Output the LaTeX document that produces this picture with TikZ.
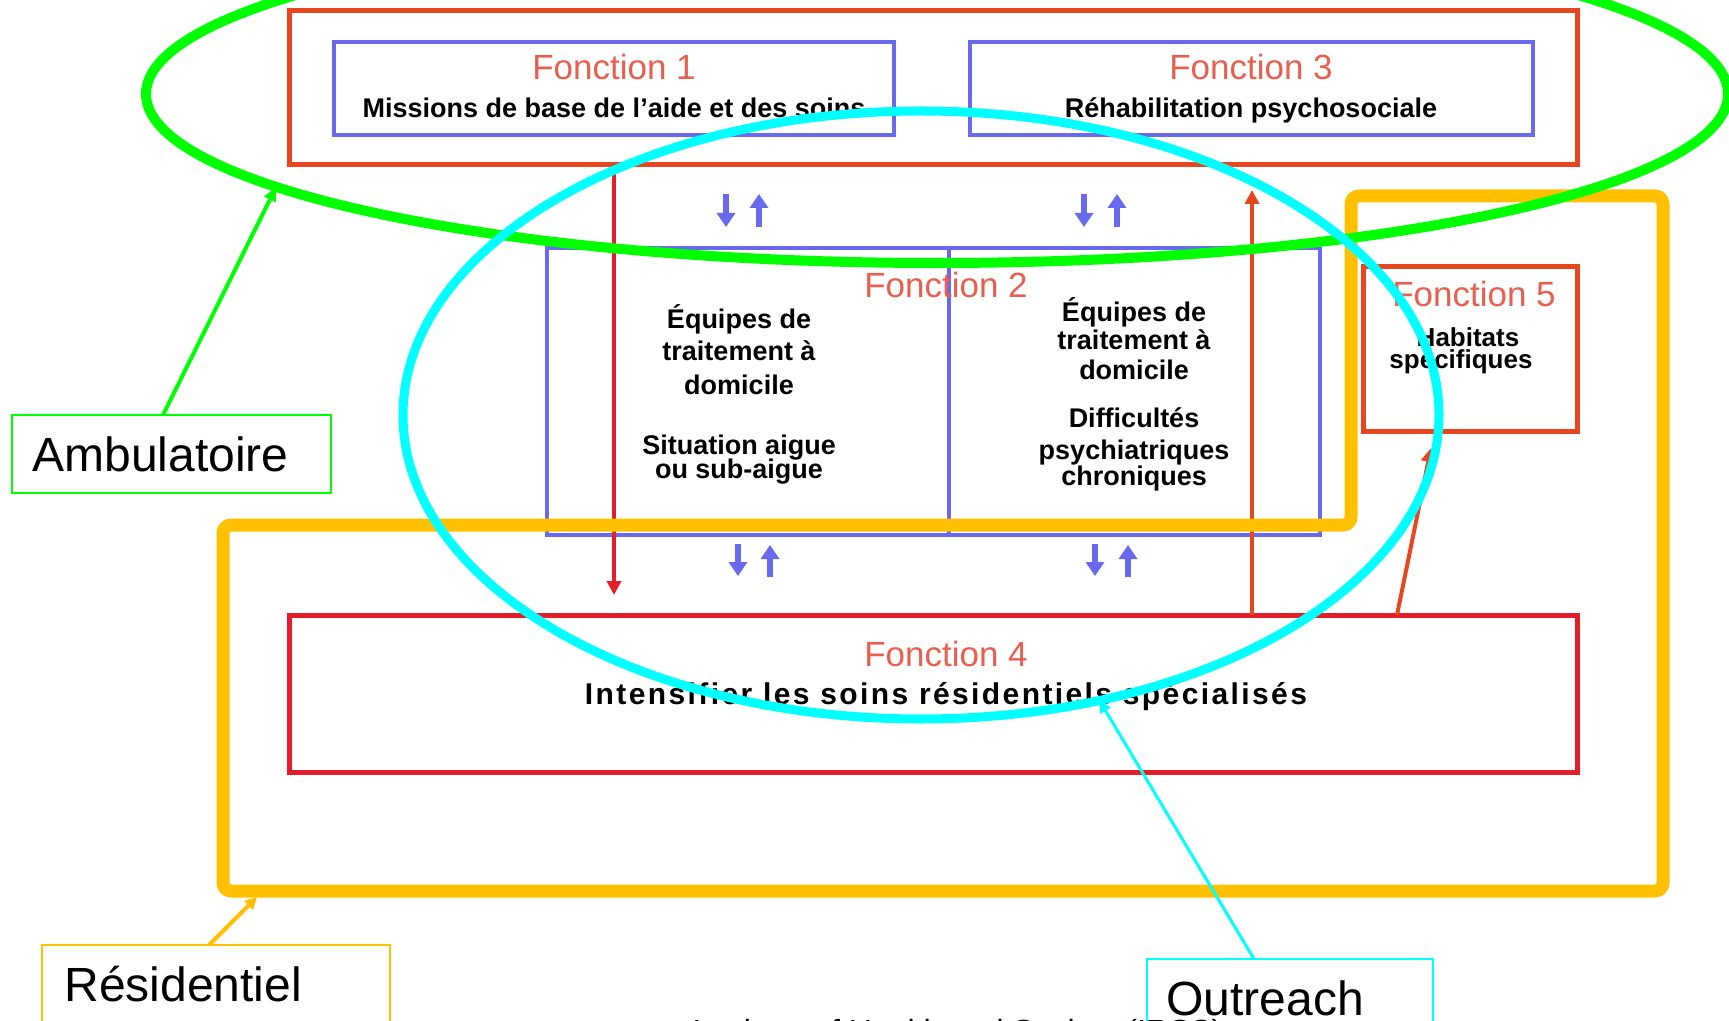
\documentclass[tikz,border=0pt]{standalone}
\usepackage{fontspec}
\setmainfont{Liberation Sans}
\usetikzlibrary{arrows.meta,shapes.geometric}
\definecolor{ored}{RGB}{232,70,30}
\definecolor{pred}{RGB}{228,30,40}
\definecolor{fblue}{RGB}{105,105,240}
\definecolor{ftxt}{RGB}{232,95,80}
\definecolor{grn}{RGB}{0,255,0}
\definecolor{cyn}{RGB}{0,255,255}
\definecolor{orng}{RGB}{255,192,0}
\begin{document}
\begin{tikzpicture}[x=0.5pt,y=-0.5pt,
  box/.style={draw, rectangle, inner sep=0pt, outer sep=0pt},
  redbox/.style={box, draw=ored, line width=2.5pt},
  bluebox/.style={box, draw=fblue, line width=2pt},
  ftitle/.style={anchor=base, text=ftxt, font=\fontsize{17.5}{20}\selectfont, inner sep=0pt},
  fbody/.style={anchor=base, font=\fontsize{13.5}{16}\selectfont\bfseries, inner sep=0pt},
  lbl/.style={anchor=base west, font=\fontsize{24}{28}\selectfont, inner sep=0pt},
  blarrow/.style={draw=fblue, line width=3pt, -{Triangle[length=7pt,width=9pt]}},
  rdarrow/.style={draw=pred, line width=2pt, -{Triangle[length=7pt,width=7pt]}},
  region/.style={ellipse, inner sep=0pt, outer sep=0pt}
]
\useasboundingbox (0,0) rectangle (1729,1021);

% boxes
\node[redbox, minimum width=644pt, minimum height=77pt] (top) at (933,88) {};
\node[bluebox, minimum width=280pt, minimum height=46.5pt] (f1) at (614,88.5) {};
\node[bluebox, minimum width=281.5pt, minimum height=46.5pt] (f3) at (1251.5,88.5) {};
\node[bluebox, minimum width=386.5pt, minimum height=143.5pt] (f2) at (933.5,391.5) {};
\coordinate (dv) at (949,0);
\draw[fblue, line width=2pt] (f2.north -| dv) -- (f2.south -| dv);
\node[box, draw=pred, line width=2.5pt, minimum width=644pt, minimum height=78.5pt] (f4) at (933,693.5) {};
\node[redbox, minimum width=107pt, minimum height=82.5pt] (f5) at (1470,349.5) {};

% texts
\node[ftitle] (t1) at (614,80) {Fonction 1};
\node[fbody] (b1) at (614,118) {Missions de base de l'aide et des soins};
\node[ftitle] (t3) at (1251,80) {Fonction 3};
\node[fbody] (b3) at (1251,118) {Réhabilitation psychosociale};
\node[ftitle] (t2) at (946,298) {Fonction 2};
\node[fbody] (l1) at (739,329) {Équipes de};
\node[fbody] (l2) at (739,361) {traitement à};
\node[fbody] (l3) at (739,394) {domicile};
\node[fbody] (l4) at (739,454) {Situation aigue};
\node[fbody] (l5) at (739,479) {ou sub-aigue};
\node[fbody] (r1) at (1134,322) {Équipes de};
\node[fbody] (r2) at (1134,350) {traitement à};
\node[fbody] (r3) at (1134,380) {domicile};
\node[fbody] (r4) at (1134,428) {Difficultés};
\node[fbody] (r5) at (1134,459) {psychiatriques};
\node[fbody] (r6) at (1134,485) {chroniques};
\node[ftitle] (t4) at (946,666) {Fonction 4};
\node[fbody, font=\fontsize{15}{17}\selectfont\bfseries\addfontfeature{LetterSpace=8}] (b4) at (946,704) {Intensifier les soins résidentiels spécialisés};
\node[ftitle] (t5) at (1474,307) {Fonction 5};
\node[fbody, font=\fontsize{13}{15}\selectfont\bfseries] (h1) at (1468,347) {Habitats};
\node[fbody, font=\fontsize{13}{15}\selectfont\bfseries] (h2) at (1461,369) {spécifiques};

% red arrows
\coordinate (dtip) at (614,595);
\draw[rdarrow] (top.south -| dtip) -- (dtip);
\coordinate (utip) at (1252,190);
\draw[rdarrow, draw=ored] (f4.north -| utip) -- (utip);
\coordinate (f5base) at (1397,0);
\coordinate (f5tip) at (1431,448);
\draw[rdarrow, draw=ored] (f4.north -| f5base) -- (f5tip);

% blue arrows
\foreach \x in {726,1084} \draw[blarrow] (\x,194) -- (\x,227);
\foreach \x in {759,1117} \draw[blarrow] (\x,227) -- (\x,194);
\foreach \x in {738,1095} \draw[blarrow] (\x,544) -- (\x,576);
\foreach \x in {770,1128} \draw[blarrow] (\x,577) -- (\x,545);

% regions
\draw[orng, line width=6.5pt, rounded corners=4pt, line join=round]
  (1351,196) -- (1663,196) -- (1663,891) -- (223,891) -- (223,525) -- (1351,525) -- cycle;
\node[region, draw=grn, line width=5pt, minimum width=791pt, minimum height=169pt] (amb) at (937,94) {};
\node[region, draw=cyn, line width=4.5pt, minimum width=518pt, minimum height=304pt] (out) at (921,415) {};

% labels
\node[box, draw=grn, line width=0.8pt, minimum width=159.5pt, minimum height=39pt] (ambbox) at (171.5,454) {};
\node[lbl] (ambtxt) at (32,472) {Ambulatoire};
\coordinate (ga) at (163,0);
\draw[grn, line width=2pt, -{Triangle[length=7pt,width=6pt]}] (ambbox.north -| ga) -- (amb.188.3);

\node[box, draw=orng, line width=0.8pt, minimum width=174pt, minimum height=67.5pt] (resbox) at (216,1012.5) {};
\node[lbl] (restxt) at (64,1001) {Résidentiel};
\coordinate (oa) at (209,0);
\coordinate (otip) at (257,897);
\draw[orng, line width=2pt, -{Triangle[length=6pt,width=6pt]}] (resbox.north -| oa) -- (otip);

\node[box, draw=cyn, line width=1.2pt, minimum width=143pt, minimum height=60.5pt] (outbox) at (1290,1019.5) {};
\node[lbl] (outtxt) at (1166,1015) {Outreach};
\coordinate (ca) at (1254,0);
\draw[cyn, line width=1.5pt, -{Triangle[length=6pt,width=6pt]}] (outbox.north -| ca) -- (out.302);

\node[anchor=base west, font=\fontsize{16}{19}\selectfont, inner sep=0pt] (irss) at (692,1042) {Institute of Health and Society (IRSS)};
\end{tikzpicture}
\end{document}
